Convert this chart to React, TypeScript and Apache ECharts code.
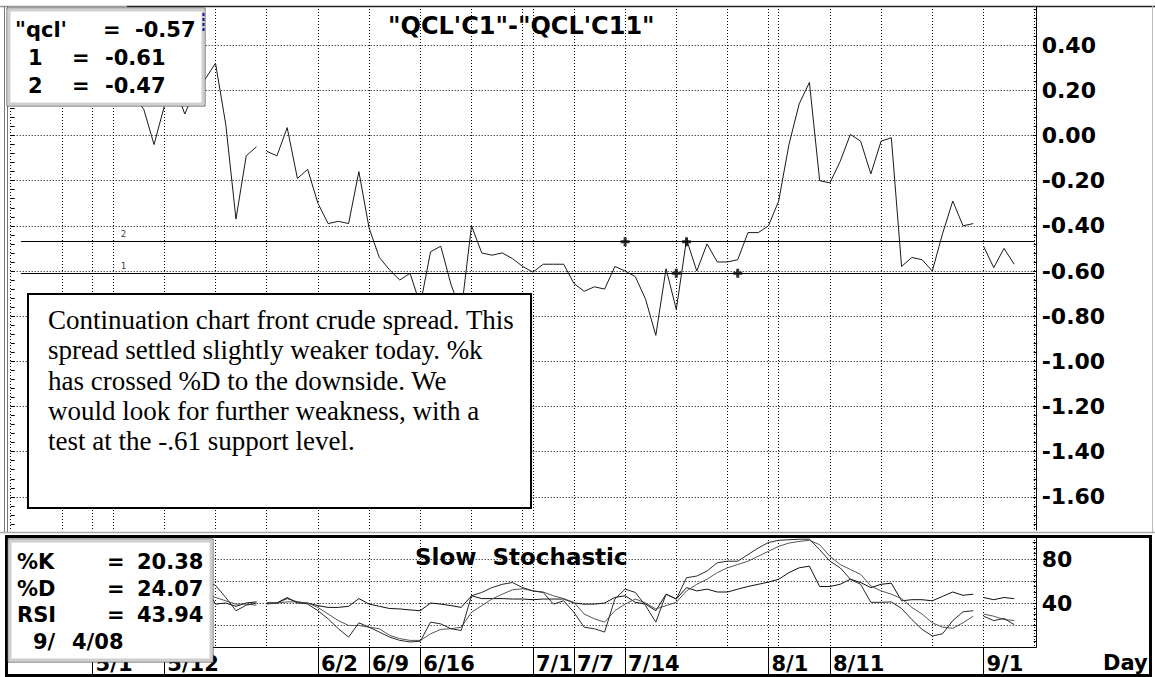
import React, { useEffect, useRef } from 'react';
import * as echarts from 'echarts';

// trading-day slots (Mon..Fri), 4/21/08 .. 9/8/08
const days = [
  '4/21', '4/22', '4/23', '4/24', '4/25',
  '4/28', '4/29', '4/30', '5/1', '5/2',
  '5/5', '5/6', '5/7', '5/8', '5/9',
  '5/12', '5/13', '5/14', '5/15', '5/16',
  '5/19', '5/20', '5/21', '5/22', '5/23',
  '5/26', '5/27', '5/28', '5/29', '5/30',
  '6/2', '6/3', '6/4', '6/5', '6/6',
  '6/9', '6/10', '6/11', '6/12', '6/13',
  '6/16', '6/17', '6/18', '6/19', '6/20',
  '6/23', '6/24', '6/25', '6/26', '6/27',
  '6/30', '7/1', '7/2', '7/3', '7/4',
  '7/7', '7/8', '7/9', '7/10', '7/11',
  '7/14', '7/15', '7/16', '7/17', '7/18',
  '7/21', '7/22', '7/23', '7/24', '7/25',
  '7/28', '7/29', '7/30', '7/31', '8/1',
  '8/4', '8/5', '8/6', '8/7', '8/8',
  '8/11', '8/12', '8/13', '8/14', '8/15',
  '8/18', '8/19', '8/20', '8/21', '8/22',
  '8/25', '8/26', '8/27', '8/28', '8/29',
  '9/1', '9/2', '9/3', '9/4', '9/5',
  '9/8',
];
const labelDays = ['5/1', '5/12', '6/2', '6/9', '6/16', '7/1', '7/7', '7/14', '8/1', '8/11', '9/1'];
const monthStarts = ['5/1', '7/1', '8/1'];
// the plotted line restarts at these days (holiday sessions)
const segmentStarts = ['4/21', '5/26', '9/1'];

// "QCL'C1"-"QCL'C11" spread
const spread = [
  0.30, 0.34, 0.28, 0.32, 0.36,
  0.31, 0.27, 0.33, 0.29, 0.24,
  0.28, 0.22, 0.18, 0.115, -0.04,
  0.13, 0.22, 0.095, 0.20, 0.25,
  0.32, 0.05, -0.37, -0.09, -0.05,
  -0.07, -0.09, 0.035, -0.19, -0.15,
  -0.30, -0.39, -0.38, -0.39, -0.16,
  -0.41, -0.54, -0.595, -0.64, -0.61,
  -0.75, -0.515, -0.49, -0.66, -0.78,
  -0.40, -0.52, -0.53, -0.52, -0.545,
  -0.58, -0.605, -0.57, -0.57, -0.57,
  -0.655, -0.69, -0.67, -0.68, -0.58,
  -0.60, -0.625, -0.725, -0.885, -0.59,
  -0.77, -0.46, -0.60, -0.48, -0.56,
  -0.56, -0.55, -0.43, -0.43, -0.40,
  -0.29, -0.04, 0.14, 0.235, -0.20,
  -0.21, -0.115, 0.005, -0.025, -0.17,
  -0.025, -0.01, -0.58, -0.54, -0.55,
  -0.60, -0.435, -0.29, -0.40, -0.39,
  -0.49, -0.585, -0.50, -0.57,
];
const slowK = [
  72, 78, 70, 75, 82, 76, 70, 74, 68, 60,
  64, 58, 52, 45, 35, 38, 44, 40, 48, 60,
  56, 45, 33, 38, 40, 40, 40, 44, 41, 39,
  33, 25.6, 16.6, 9, 22, 18, 13.6, 9, 6, 4.6,
  5.2, 22.6, 21, 16.6, 15, 46.6, 49.6, 54, 57, 58.6,
  54, 51, 49.6, 39, 42, 31.6, 18, 16.6, 13.6, 43.6,
  52.6, 49.6, 37.6, 22.6, 48, 43.6, 63, 64.5, 69, 76.6,
  78, 78, 84, 90, 95, 97, 97.5, 98, 98, 88.5,
  78, 72, 61.6, 57, 40.6, 40.6, 41, 35, 25, 16,
  10, 12, 24, 32, 33, 28, 24, 26, 20.38,
];
const slowD = [
  70, 73, 73, 74, 76, 78, 76, 73, 71, 67,
  64, 61, 58, 52, 44, 39, 39, 41, 44, 49,
  45, 42, 39, 39, 38, 39, 40, 41, 41, 40,
  36, 30, 24, 19.6, 19.6, 18, 16.6, 10.6, 7.6, 6,
  6, 12, 16, 16.6, 18, 31.6, 37.6, 43.6, 48, 52,
  53, 51, 50, 46.6, 44, 40.6, 30, 25.6, 22.6, 33,
  39, 43.6, 40, 34.6, 37.6, 40.6, 51, 57, 61.6, 67.6,
  72, 75, 78, 82.5, 87, 91.5, 94.5, 96, 97, 93,
  82.5, 75, 70.5, 66, 55.5, 51, 48, 44, 36, 30,
  22, 18, 17, 22, 28, 30, 28, 25, 24.07,
];
const rsi = [
  58, 60, 57, 59, 62, 59, 57, 60, 58, 55,
  57, 53, 51, 47, 40, 45, 49, 45, 50, 55,
  39, 40, 37, 40, 41, 40, 40, 45, 40, 40,
  37.6, 36, 36, 37, 44, 39, 37, 35, 34.6, 33.7,
  33, 40, 39, 37.6, 36, 46.6, 44, 44, 44, 43.6,
  43.6, 43, 43.6, 43.6, 43.6, 40, 39, 39, 40, 45,
  46.6, 40.6, 39, 33, 48, 43.6, 54, 51, 52.6, 50,
  50, 52.6, 55, 57, 59, 61.6, 67.6, 72, 73.5, 55,
  55, 57, 61.6, 58.6, 54, 57, 58, 42, 43, 43,
  42, 46, 50, 47, 48, 45, 43, 45, 43.94,
];

const support1 = -0.61;
const support2 = -0.47;
const touches: [string, number][] = [['7/14', support2], ['7/21', support1], ['7/22', support2], ['7/29', support1]];
const lineLabels = [{ day: '5/6', value: support2, name: '2' }, { day: '5/6', value: support1, name: '1' }];

const priceMin = -1.8;
const priceMax = 0.6;
const priceStep = 0.2;
const stochMin = 0;
const stochMax = 100;
const stochStep = 20;
const stochLabels = [40, 80];

const title = '"QCL\'C1"-"QCL\'C11"';
const subTitle = 'Slow  Stochastic';
const note = [
  'Continuation chart front crude spread. This',
  'spread settled slightly weaker today. %k',
  'has crossed %D to the downside. We',
  'would look for further weakness, with a',
  'test at the -.61 support level.',
];
const legendTop = [
  ['"qcl\'', '=', '-0.57'],
  ['1', '=', '-0.61'],
  ['2', '=', '-0.47'],
];
const legendBottom = [
  ['%K', '=', '20.38'],
  ['%D', '=', '24.07'],
  ['RSI', '=', '43.94'],
];
const lastDate = ['9/', '4/08'];

function segments(values: number[]) {
  const starts = segmentStarts.map((d) => days.indexOf(d));
  return starts.map((s, k) => {
    const e = k + 1 < starts.length ? starts[k + 1] : values.length;
    return values.map((v, i) => (i >= s && i < e ? v : null));
  });
}

const FONT = 'DejaVu Sans';
const dotted = { type: [1, 2] as any, color: '#000', width: 1 };
const isGridDay = (i: number, v: string) => i % 5 === 0 || monthStarts.includes(v);
const isLabelDay = (_i: number, v: string) => labelDays.includes(v);

function txt(text: string, x: number, y: number, size: number, extra: any = {}) {
  return {
    type: 'text',
    z: 110,
    silent: true,
    style: {
      text,
      x,
      y,
      fill: '#000',
      fontFamily: FONT,
      fontWeight: 'bold',
      fontSize: size,
      align: 'left',
      verticalAlign: 'middle',
      textAlign: 'left',
      textVerticalAlign: 'middle',
      ...extra,
    },
  };
}

function box3d(x: number, y: number, w: number, h: number) {
  return [
    { type: 'rect', z: 105, silent: true, shape: { x, y, width: w, height: h }, style: { fill: '#fff', stroke: '#555', lineWidth: 1 } },
    { type: 'rect', z: 106, silent: true, shape: { x: x + 2, y: y + 2, width: w - 4, height: h - 4 }, style: { fill: 'none', stroke: '#cfcfcf', lineWidth: 3 } },
  ];
}

export default function App() {
  const ref = useRef<HTMLDivElement>(null);
  useEffect(() => {
    const chart = echarts.init(ref.current!, undefined, { renderer: 'svg', width: 1155, height: 677 });
    const lineSeries = (data: (number | null)[], xi: number, yi: number, color: string) => ({
      type: 'line',
      xAxisIndex: xi,
      yAxisIndex: yi,
      data,
      symbol: 'none',
      silent: true,
      lineStyle: { color, width: 1 },
      z: 3,
    });

    const graphic: any[] = [
      // frame
      { type: 'rect', z: 100, silent: true, shape: { x: 0, y: 0, width: 1155, height: 6 }, style: { fill: '#fff' } },
      { type: 'line', z: 101, silent: true, shape: { x1: 0, y1: 6.5, x2: 127, y2: 6.5 }, style: { stroke: '#999', lineWidth: 1.5 } },
      { type: 'line', z: 101, silent: true, shape: { x1: 127, y1: 6.5, x2: 1155, y2: 6.5 }, style: { stroke: '#222', lineWidth: 1.5 } },
      { type: 'line', z: 101, silent: true, shape: { x1: 4.5, y1: 6, x2: 4.5, y2: 532 }, style: { stroke: '#777', lineWidth: 1 } },
      { type: 'line', z: 101, silent: true, shape: { x1: 7.5, y1: 6, x2: 7.5, y2: 532 }, style: { stroke: '#777', lineWidth: 1 } },
      { type: 'line', z: 101, silent: true, shape: { x1: 1152.5, y1: 6, x2: 1152.5, y2: 532 }, style: { stroke: '#bbb', lineWidth: 1 } },
      { type: 'rect', z: 100, silent: true, shape: { x: 0, y: 530.5, width: 1155, height: 5 }, style: { fill: '#fff' } },
      { type: 'line', z: 101, silent: true, shape: { x1: 0, y1: 532.5, x2: 1155, y2: 532.5 }, style: { stroke: '#aaa', lineWidth: 1.5 } },
      { type: 'rect', z: 101, silent: true, shape: { x: 6.5, y: 536.5, width: 1144, height: 139 }, style: { fill: 'none', stroke: '#000', lineWidth: 3 } },
      // blue marker
      { type: 'line', z: 112, silent: true, shape: { x1: 203.5, y1: 13, x2: 203.5, y2: 32 }, style: { stroke: '#1010b0', lineWidth: 2, lineDash: [3, 2] } },
      // note box
      { type: 'rect', z: 105, silent: true, shape: { x: 28, y: 294, width: 503, height: 214 }, style: { fill: '#fff', stroke: '#000', lineWidth: 2 } },
      {
        type: 'text', z: 110, silent: true,
        style: {
          text: note.join('\n'), x: 48, y: 305, fill: '#000', fontFamily: 'Liberation Serif', fontSize: 27,
          lineHeight: 30.3, align: 'left', verticalAlign: 'top', textAlign: 'left', textVerticalAlign: 'top',
        },
      },
      // titles
      txt(title, 388, 26, 24),
      txt(subTitle, 415, 556.5, 23),
      txt('Day', 1103, 663, 21),
      ...box3d(7, 8, 198, 98),
      ...box3d(8, 539, 205, 123),
    ];
    const topRowsY = [29.5, 58, 85.5];
    legendTop.forEach((row, r) => {
      const xs = r === 0 ? [15, 103, 135] : [28, 72, 105];
      row.forEach((t, c) => graphic.push(txt(t, xs[c], topRowsY[r], 21)));
    });
    const botRowsY = [562, 588.5, 615];
    legendBottom.forEach((row, r) => {
      const xs = [17, 107, 137];
      row.forEach((t, c) => graphic.push(txt(t, xs[c], botRowsY[r], 21)));
    });
    graphic.push(txt(lastDate[0], 33, 641.5, 21));
    graphic.push(txt(lastDate[1], 72, 641.5, 21));

    const option: any = {
      animation: false,
      backgroundColor: '#fff',
      grid: [
        { left: 10.7, top: -6.4, width: 1024, height: 548.4 },
        { left: 10.7, top: 537, width: 1024, height: 110 },
      ],
      xAxis: [
        {
          gridIndex: 0, type: 'category', data: days, boundaryGap: false,
          axisLine: { show: false }, axisTick: { show: false }, axisLabel: { show: false },
          splitLine: { show: true, interval: isGridDay, lineStyle: dotted },
        },
        {
          gridIndex: 1, type: 'category', data: days, boundaryGap: false,
          axisLine: { show: true, onZero: false, lineStyle: { color: '#000', width: 1 } },
          axisTick: { show: true, interval: isLabelDay, length: 29, lineStyle: { color: '#000', width: 1 } },
          axisLabel: {
            show: true, interval: isLabelDay, fontFamily: FONT, fontWeight: 'bold', fontSize: 21, color: '#000',
            align: 'left', verticalAlign: 'middle', margin: 17, padding: [0, 0, 0, 3],
          },
          splitLine: { show: true, interval: isGridDay, lineStyle: dotted },
        },
      ],
      yAxis: [
        {
          gridIndex: 0, type: 'value', position: 'right', offset: 2,
          min: priceMin, max: priceMax, interval: priceStep,
          axisLine: { show: true, lineStyle: { color: '#000', width: 1 } },
          axisTick: { show: true, inside: true, length: 4, lineStyle: { color: '#000' } },
          minorTick: { show: true, splitNumber: 5, length: 3, lineStyle: { color: '#000' } },
          axisLabel: {
            show: true, fontFamily: FONT, fontWeight: 'bold', fontSize: 22, color: '#000', margin: 5,
            showMinLabel: false, showMaxLabel: false,
            formatter: (v: number) => (Math.abs(v) < 1e-9 ? 0 : v).toFixed(2),
          },
          splitLine: { show: true, lineStyle: dotted, showMinLine: false, showMaxLine: false },
        },
        {
          gridIndex: 0, type: 'value', position: 'left',
          min: priceMin, max: priceMax, interval: priceStep,
          axisLine: { show: false },
          axisTick: { show: true, inside: true, length: 4, lineStyle: { color: '#000' } },
          minorTick: { show: true, splitNumber: 5, length: 4, lineStyle: { color: '#000' } },
          axisLabel: { show: false },
          splitLine: { show: false },
        },
        {
          gridIndex: 1, type: 'value', position: 'right', offset: 2,
          min: stochMin, max: stochMax, interval: stochStep,
          axisLine: { show: true, lineStyle: { color: '#000', width: 1 } },
          axisTick: { show: true, inside: true, length: 4, lineStyle: { color: '#000' } },
          minorTick: { show: true, splitNumber: 4, length: 3, lineStyle: { color: '#000' } },
          axisLabel: {
            show: true, fontFamily: FONT, fontWeight: 'bold', fontSize: 22, color: '#000', margin: 5,
            formatter: (v: number) => (stochLabels.includes(v) ? String(v) : ''),
          },
          splitLine: { show: true, lineStyle: dotted, showMinLine: false, showMaxLine: false },
        },
      ],
      series: [
        ...segments(spread).map((d) => lineSeries(d, 0, 0, '#1a1a1a')),
        {
          type: 'scatter', xAxisIndex: 0, yAxisIndex: 0, silent: true, z: 6,
          data: touches,
          symbol: 'path://M3,0H6V3H9V6H6V9H3V6H0V3H3Z', symbolSize: 9,
          itemStyle: { color: '#000' },
          markLine: {
            silent: true, symbol: ['none', 'none'], label: { show: false },
            lineStyle: { color: '#000', width: 1, type: 'solid' },
            data: [
              [{ coord: ['4/22', support2] }, { coord: ['9/8', support2] }],
              [{ coord: ['4/22', support1] }, { coord: ['9/8', support1] }],
            ],
          },
        },
        {
          type: 'scatter', xAxisIndex: 0, yAxisIndex: 0, silent: true, symbolSize: 0,
          data: lineLabels.map((l) => ({ value: [l.day, l.value], name: l.name })),
          label: { show: true, formatter: '{b}', position: 'top', distance: 3, fontSize: 9, color: '#000', fontFamily: 'DejaVu Sans Mono' },
        },
        ...segments(rsi).map((d) => lineSeries(d, 1, 2, '#111')),
        ...segments(slowD).map((d) => lineSeries(d, 1, 2, '#555')),
        ...segments(slowK).map((d) => lineSeries(d, 1, 2, '#2a2a2a')),
      ],
      graphic,
    };
    chart.setOption(option);
    return () => chart.dispose();
  }, []);
  return <div ref={ref} style={{ position: 'fixed', left: 0, top: 0, width: 1155, height: 677, background: '#fff' }} />;
}
